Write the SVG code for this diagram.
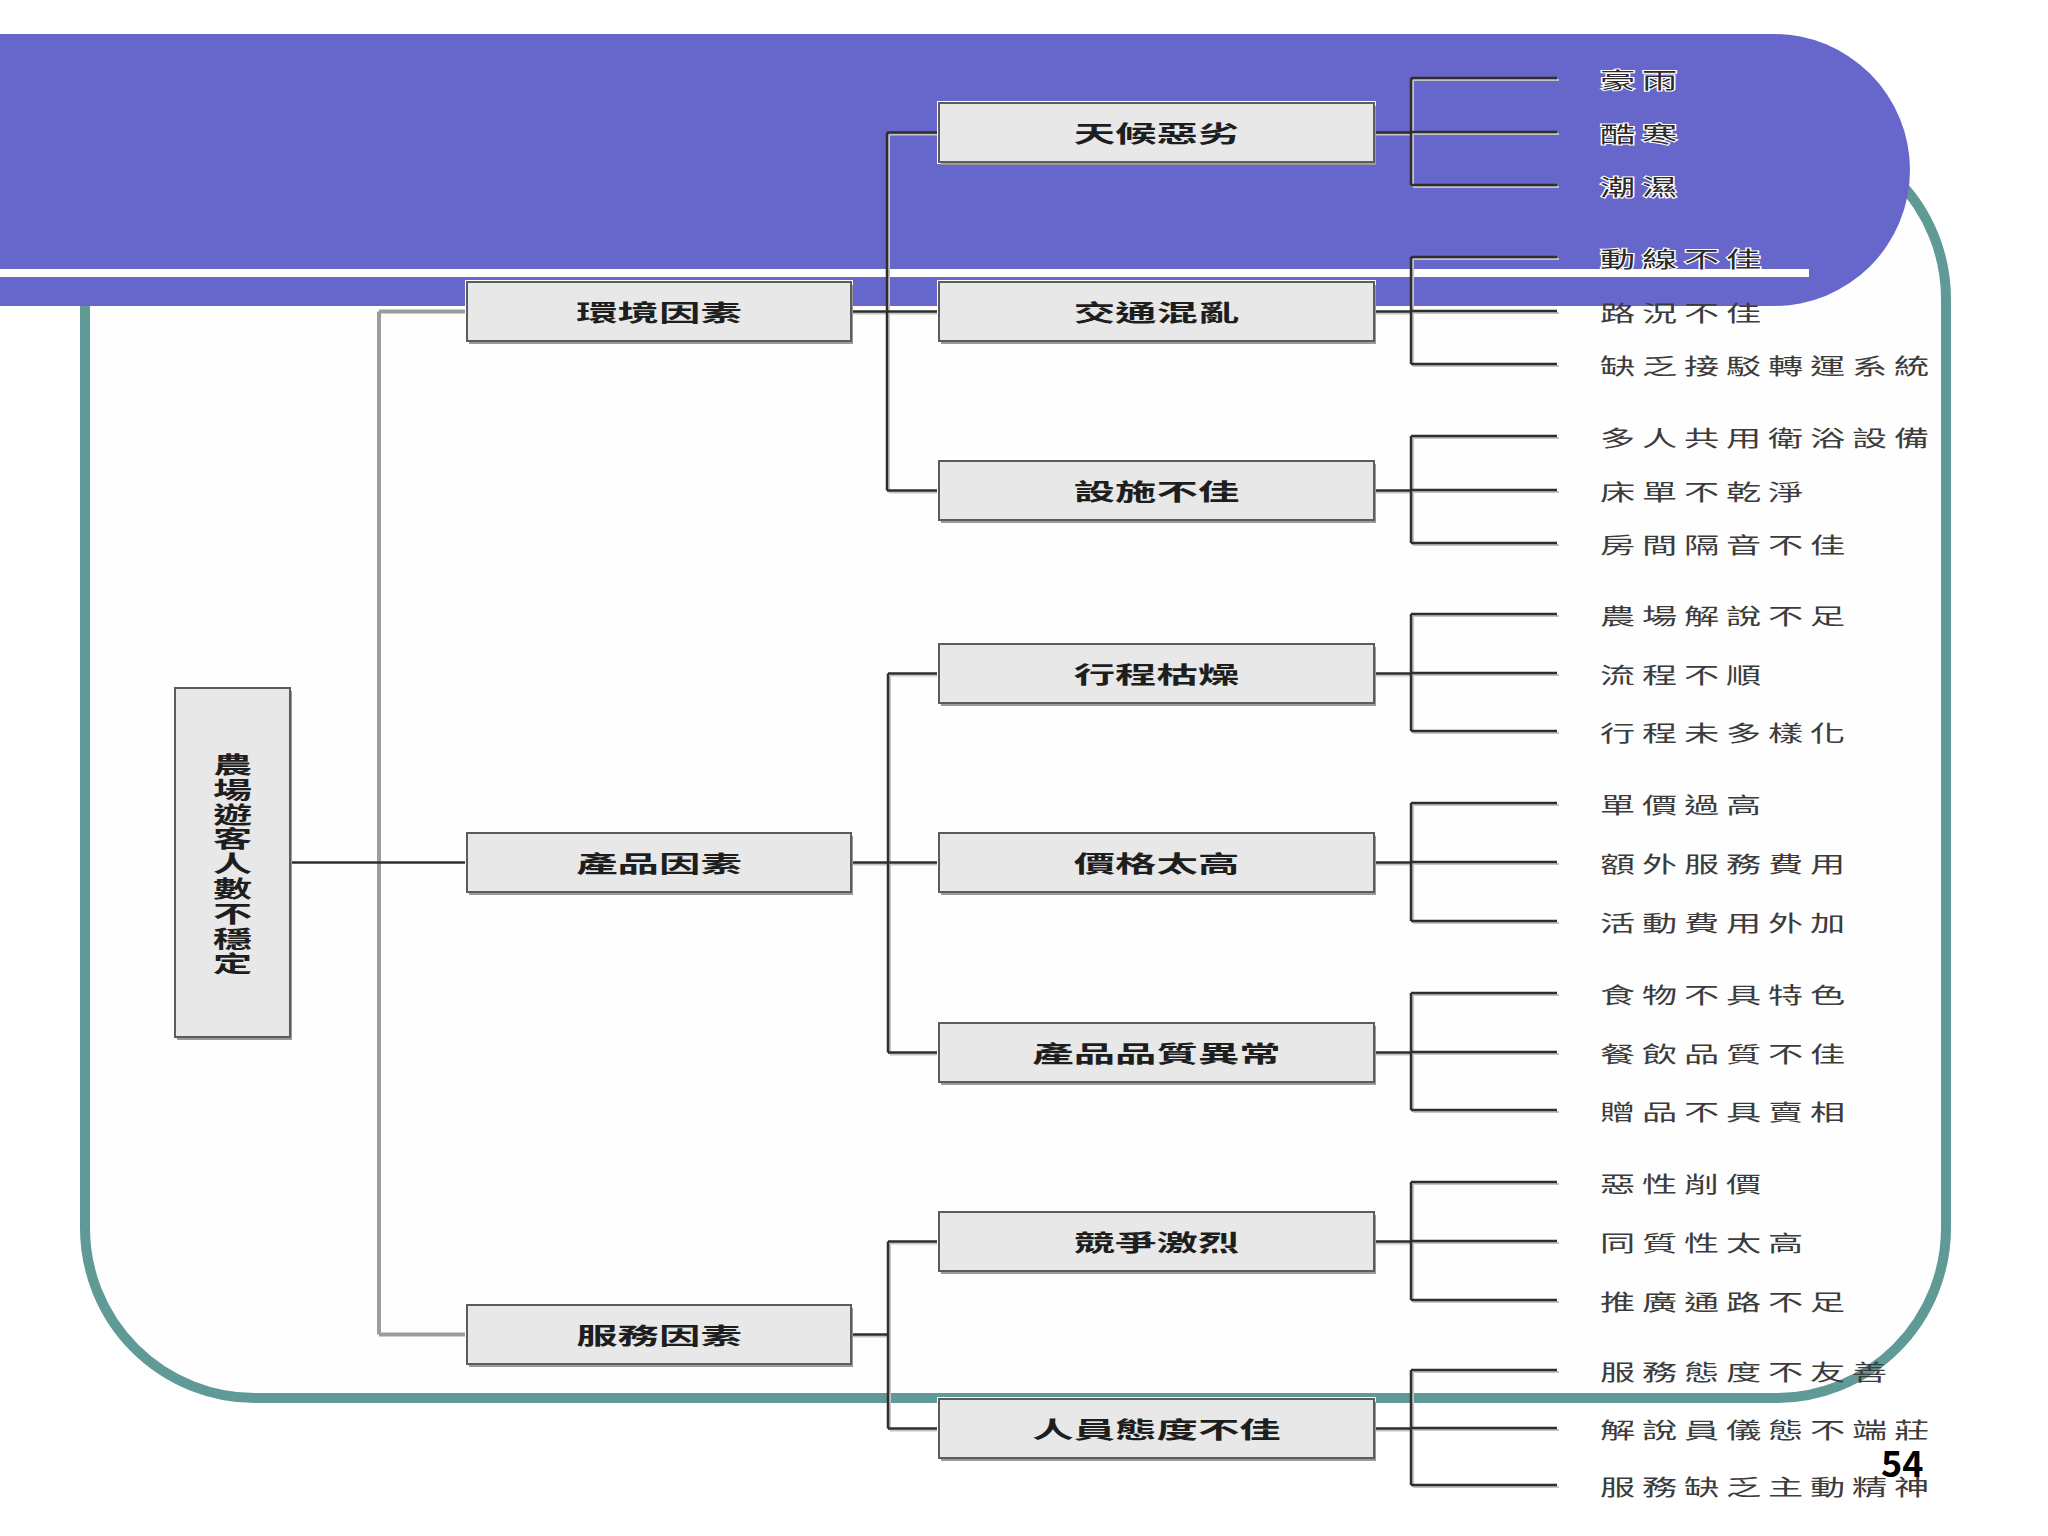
<svg xmlns="http://www.w3.org/2000/svg" width="2048" height="1536" viewBox="0 0 2048 1536">
<style>
  text { font-family: "Noto Sans CJK TC", "Noto Sans CJK SC", sans-serif; }
  .leaf { font-size: 22px; letter-spacing: 4.25px; fill: #3c3c3c; dominant-baseline: central; }
  .onp { stroke: #ffffff; stroke-width: 2px; paint-order: stroke; fill: #2a2a2a; }
  .bt { font-size: 23px; font-weight: bold; fill: #1e1e1e; text-anchor: middle; dominant-baseline: central; }
  .rt { font-size: 23px; font-weight: bold; fill: #1e1e1e; text-anchor: middle; writing-mode: vertical-rl; letter-spacing: 1.9px; }
  .halo { fill: #ffffff; }
  .shadow { fill: #9a9a9a; }
  .box { fill: #e8e8e8; stroke: #5c5c5c; stroke-width: 2; }
  .conn { fill: none; stroke: #2e2e2e; stroke-width: 2.5; }
  .conn2 { fill: none; stroke: #c4c4c4; stroke-width: 2; }
  .bar { fill: none; stroke: #9c9c9c; stroke-width: 4; }
</style>
<defs>
  <g id="l1box"><rect class="halo" x="-2" y="-2" width="388" height="63"/><rect class="shadow" x="2" y="3" width="384" height="59"/><rect class="box" x="0" y="0" width="384" height="59"/></g>
  <g id="l2box"><rect class="halo" x="-2" y="-2" width="439" height="63"/><rect class="shadow" x="2" y="3" width="435" height="59"/><rect class="box" x="0" y="0" width="435" height="59"/></g>
</defs>
<rect x="0" y="0" width="2048" height="1536" fill="#ffffff"/>
<g id="frame">
  <rect x="85" y="129" width="1861" height="1269" rx="170" ry="170" fill="#fefefe" stroke="#609a97" stroke-width="10"/>
  <path d="M-10 34 H1774 A136 136 0 0 1 1774 306 H-10 Z" fill="#6767cb"/>
  <rect x="0" y="269" width="1809" height="8" fill="#ffffff"/>
</g>
<g id="connectors">
  <g transform="translate(2 2)">
    <path class="conn2" d="M851 311.5 H939 M887 132.5 V490.5 M887 132.5 H939 M887 490.5 H939 M851 862.5 H939 M888 673.5 V1052.5 M888 673.5 H939 M888 1052.5 H939 M851 1334.5 H888 M888 1241.5 V1428.5 M888 1241.5 H939 M888 1428.5 H939"/>
    <path class="conn2" d="M1374 132.5 H1411 M1411 78 V185 M1411 78 H1557 M1411 132 H1557 M1411 185 H1557 M1374 311.5 H1411 M1411 257 V364 M1411 257 H1557 M1411 311 H1557 M1411 364 H1557 M1374 490.5 H1411 M1411 436 V543 M1411 436 H1557 M1411 490 H1557 M1411 543 H1557 M1374 673.5 H1411 M1411 614 V731 M1411 614 H1557 M1411 673 H1557 M1411 731 H1557 M1374 862.5 H1411 M1411 803 V921 M1411 803 H1557 M1411 862 H1557 M1411 921 H1557 M1374 1052.5 H1411 M1411 993 V1110 M1411 993 H1557 M1411 1052 H1557 M1411 1110 H1557 M1374 1241.5 H1411 M1411 1182 V1300 M1411 1182 H1557 M1411 1241 H1557 M1411 1300 H1557 M1374 1428.5 H1411 M1411 1370 V1485 M1411 1370 H1557 M1411 1428 H1557 M1411 1485 H1557"/>
  </g>
  <path class="bar" d="M379 311.5 V1334.5 M379 311.5 H467 M379 1334.5 H467"/>
  <path class="conn" d="M290 862.5 H467"/>
  <path class="conn" d="M851 311.5 H939 M887 132.5 V490.5 M887 132.5 H939 M887 490.5 H939 M851 862.5 H939 M888 673.5 V1052.5 M888 673.5 H939 M888 1052.5 H939 M851 1334.5 H888 M888 1241.5 V1428.5 M888 1241.5 H939 M888 1428.5 H939"/>
  <path class="conn" d="M1374 132.5 H1411 M1411 78 V185 M1411 78 H1557 M1411 132 H1557 M1411 185 H1557 M1374 311.5 H1411 M1411 257 V364 M1411 257 H1557 M1411 311 H1557 M1411 364 H1557 M1374 490.5 H1411 M1411 436 V543 M1411 436 H1557 M1411 490 H1557 M1411 543 H1557 M1374 673.5 H1411 M1411 614 V731 M1411 614 H1557 M1411 673 H1557 M1411 731 H1557 M1374 862.5 H1411 M1411 803 V921 M1411 803 H1557 M1411 862 H1557 M1411 921 H1557 M1374 1052.5 H1411 M1411 993 V1110 M1411 993 H1557 M1411 1052 H1557 M1411 1110 H1557 M1374 1241.5 H1411 M1411 1182 V1300 M1411 1182 H1557 M1411 1241 H1557 M1411 1300 H1557 M1374 1428.5 H1411 M1411 1370 V1485 M1411 1370 H1557 M1411 1428 H1557 M1411 1485 H1557"/>
</g>
<g id="root">
  <rect class="shadow" x="177" y="691" width="115" height="349"/>
  <rect class="box" x="175" y="688" width="115" height="349"/>
  <text class="rt" transform="translate(232.5 864.5) scale(1.7 1)">農場遊客人數不穩定</text>
</g>
<g id="env">
  <use href="#l1box" x="467" y="282"/>
  <text class="bt" transform="translate(659 311.5) scale(1.8 1)">環境因素</text>
</g>
<g id="prod">
  <use href="#l1box" x="467" y="833"/>
  <text class="bt" transform="translate(659 862.5) scale(1.8 1)">產品因素</text>
</g>
<g id="serv">
  <use href="#l1box" x="467" y="1305"/>
  <text class="bt" transform="translate(659 1334.5) scale(1.8 1)">服務因素</text>
</g>
<g id="weather">
  <use href="#l2box" x="939" y="103"/>
  <text class="bt" transform="translate(1156.5 132.5) scale(1.8 1)">天候惡劣</text>
  <text class="leaf onp" transform="translate(1600 78) scale(1.6 1)">豪雨</text>
  <text class="leaf onp" transform="translate(1600 132) scale(1.6 1)">酷寒</text>
  <text class="leaf onp" transform="translate(1600 185) scale(1.6 1)">潮濕</text>
</g>
<g id="traffic">
  <use href="#l2box" x="939" y="282"/>
  <text class="bt" transform="translate(1156.5 311.5) scale(1.8 1)">交通混亂</text>
  <text class="leaf onp" transform="translate(1600 257) scale(1.6 1)">動線不佳</text>
  <text class="leaf" transform="translate(1600 311) scale(1.6 1)">路況不佳</text>
  <text class="leaf" transform="translate(1600 364) scale(1.6 1)">缺乏接駁轉運系統</text>
</g>
<g id="facility">
  <use href="#l2box" x="939" y="461"/>
  <text class="bt" transform="translate(1156.5 490.5) scale(1.8 1)">設施不佳</text>
  <text class="leaf" transform="translate(1600 436) scale(1.6 1)">多人共用衛浴設備</text>
  <text class="leaf" transform="translate(1600 490) scale(1.6 1)">床單不乾淨</text>
  <text class="leaf" transform="translate(1600 543) scale(1.6 1)">房間隔音不佳</text>
</g>
<g id="itinerary">
  <use href="#l2box" x="939" y="644"/>
  <text class="bt" transform="translate(1156.5 673.5) scale(1.8 1)">行程枯燥</text>
  <text class="leaf" transform="translate(1600 614) scale(1.6 1)">農場解說不足</text>
  <text class="leaf" transform="translate(1600 673) scale(1.6 1)">流程不順</text>
  <text class="leaf" transform="translate(1600 731) scale(1.6 1)">行程未多樣化</text>
</g>
<g id="price">
  <use href="#l2box" x="939" y="833"/>
  <text class="bt" transform="translate(1156.5 862.5) scale(1.8 1)">價格太高</text>
  <text class="leaf" transform="translate(1600 803) scale(1.6 1)">單價過高</text>
  <text class="leaf" transform="translate(1600 862) scale(1.6 1)">額外服務費用</text>
  <text class="leaf" transform="translate(1600 921) scale(1.6 1)">活動費用外加</text>
</g>
<g id="quality">
  <use href="#l2box" x="939" y="1023"/>
  <text class="bt" transform="translate(1156.5 1052.5) scale(1.8 1)">產品品質異常</text>
  <text class="leaf" transform="translate(1600 993) scale(1.6 1)">食物不具特色</text>
  <text class="leaf" transform="translate(1600 1052) scale(1.6 1)">餐飲品質不佳</text>
  <text class="leaf" transform="translate(1600 1110) scale(1.6 1)">贈品不具賣相</text>
</g>
<g id="competition">
  <use href="#l2box" x="939" y="1212"/>
  <text class="bt" transform="translate(1156.5 1241.5) scale(1.8 1)">競爭激烈</text>
  <text class="leaf" transform="translate(1600 1182) scale(1.6 1)">惡性削價</text>
  <text class="leaf" transform="translate(1600 1241) scale(1.6 1)">同質性太高</text>
  <text class="leaf" transform="translate(1600 1300) scale(1.6 1)">推廣通路不足</text>
</g>
<g id="staff">
  <use href="#l2box" x="939" y="1399"/>
  <text class="bt" transform="translate(1156.5 1428.5) scale(1.8 1)">人員態度不佳</text>
  <text class="leaf" transform="translate(1600 1370) scale(1.6 1)">服務態度不友善</text>
  <text class="leaf" transform="translate(1600 1428) scale(1.6 1)">解說員儀態不端莊</text>
  <text class="leaf" transform="translate(1600 1485) scale(1.6 1)">服務缺乏主動精神</text>
</g>
<text x="1881" y="1477" font-family="Liberation Sans, Arial, sans-serif" font-size="36" font-weight="bold" fill="#000000">54</text>
</svg>
